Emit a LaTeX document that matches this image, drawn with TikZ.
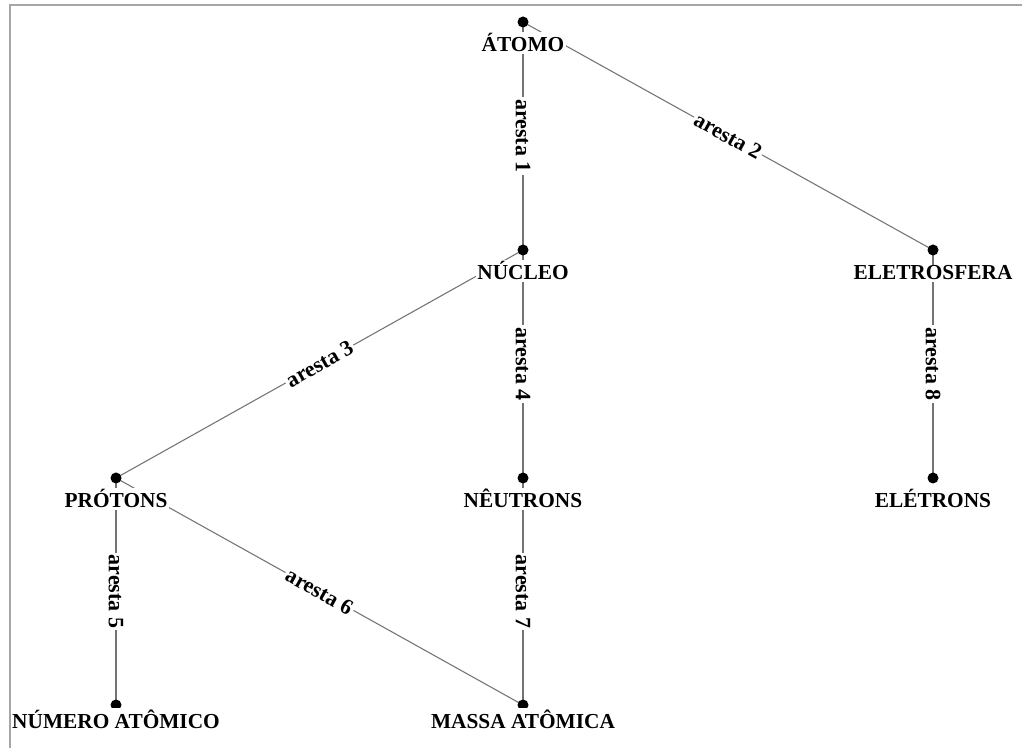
\documentclass[tikz,border=0pt]{standalone}
\usepackage{fontspec}
\setmainfont{Liberation Serif}
\usetikzlibrary{backgrounds}
\begin{document}
\begin{tikzpicture}[x=0.75pt,y=-0.75pt,
  dot/.style={circle,fill=black,inner sep=0pt,minimum size=8.25pt},
  vlabel/.style={fill=white,inner sep=1pt,anchor=base,font=\bfseries\fontsize{16}{18}\selectfont},
  elabel/.style={fill=white,inner sep=1.5pt,sloped,font=\bfseries\fontsize{16.5}{18}\selectfont},
  link/.style={draw=black!55,line width=0.8pt},
  frameline/.style={draw=black!35,line width=1.5pt}]
\useasboundingbox (0,0) rectangle (1022,748);
\draw[frameline] (10,748) -- (10,5) -- (1022,5);

% vertices
\node[dot] (atomo) at (523,22) {};
\node[dot] (nucleo) at (523,250) {};
\node[dot] (eletrosfera) at (933,250) {};
\node[dot] (protons) at (116,478) {};
\node[dot] (neutrons) at (523,478) {};
\node[dot] (eletrons) at (933,478) {};
\node[dot] (numero) at (116,705) {};
\node[dot] (massa) at (523,705) {};

% edges with their labels, kept underneath the vertex names
\begin{scope}[on background layer]
\draw[link] (atomo.center) -- node[elabel]{aresta 1} (nucleo.center);
\draw[link] (atomo.center) -- node[elabel]{aresta 2} (eletrosfera.center);
\draw[link] (nucleo.center) -- node[elabel]{aresta 3} (protons.center);
\draw[link] (nucleo.center) -- node[elabel]{aresta 4} (neutrons.center);
\draw[link] (protons.center) -- node[elabel]{aresta 5} (numero.center);
\draw[link] (protons.center) -- node[elabel]{aresta 6} (massa.center);
\draw[link] (neutrons.center) -- node[elabel]{aresta 7} (massa.center);
\draw[link] (eletrosfera.center) -- node[elabel]{aresta 8} (eletrons.center);
\end{scope}

% vertex names
\node[vlabel] (latomo) at (523,52) {ÁTOMO};
\node[vlabel] (lnucleo) at (523,280) {NÚCLEO};
\node[vlabel] (leletrosfera) at (933,280) {ELETROSFERA};
\node[vlabel] (lprotons) at (116,508) {PRÓTONS};
\node[vlabel] (lneutrons) at (523,508) {NÊUTRONS};
\node[vlabel] (leletrons) at (933,508) {ELÉTRONS};
\node[vlabel] (lnumero) at (116,728) {NÚMERO ATÔMICO};
\node[vlabel] (lmassa) at (523,728) {MASSA ATÔMICA};
\end{tikzpicture}
\end{document}
